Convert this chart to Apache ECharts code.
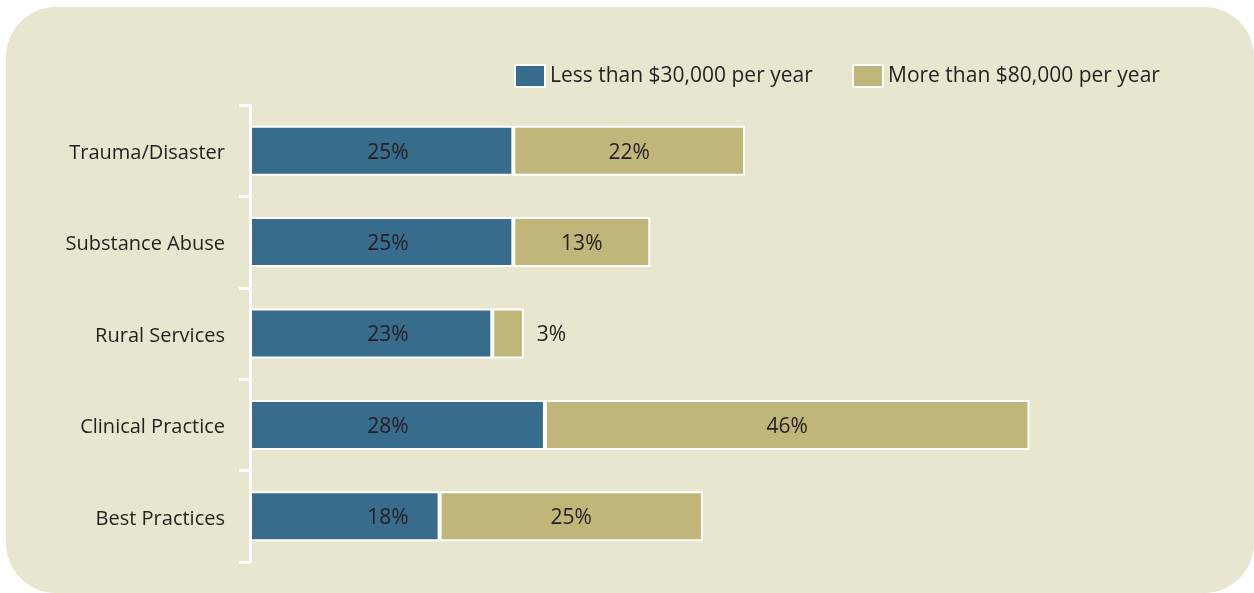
<!DOCTYPE html>
<html>
<head>
<meta charset="utf-8">
<script src="https://cdn.jsdelivr.net/npm/echarts@6/dist/echarts.min.js"></script>
<style>
  html, body { margin: 0; padding: 0; background: #ffffff; }
  #chart { width: 1254px; height: 593px; }
</style>
</head>
<body>
<div id="chart"></div>
<script>
// Share of respondents by income level, per topic area
const categories = ['Trauma/Disaster', 'Substance Abuse', 'Rural Services', 'Clinical Practice', 'Best Practices'];
const lowIncome = [25, 25, 23, 28, 18];   // Less than $30,000 per year
const highIncome = [22, 13, 3, 46, 25];   // More than $80,000 per year
const seriesNames = ['Less than $30,000 per year', 'More than $80,000 per year'];

const BLUE = '#386c8d';
const GOLD = '#c1b679';
const PANEL = '#e8e6ce';
const TEXT = '#231f20';
const FONT = '"Open Sans", "Noto Sans", sans-serif';

const chart = echarts.init(document.getElementById('chart'), null, { renderer: 'canvas' });

const highData = highIncome.map(function (v) {
  // narrow segments carry their label just outside the bar end
  if (v < 6) {
    return { value: v, label: { position: 'right', distance: 13 } };
  }
  return v;
});

const legendBase = {
  icon: 'rect', itemWidth: 30, itemHeight: 22, itemGap: 0, padding: 0,
  itemStyle: { borderColor: '#ffffff', borderWidth: 2 },
  textStyle: { fontFamily: FONT, fontSize: 21, color: TEXT }
};

chart.setOption({
  backgroundColor: '#ffffff',
  animation: false,
  textStyle: { fontFamily: FONT, color: TEXT },
  graphic: {
    elements: [{
      type: 'rect',
      z: -100,
      silent: true,
      shape: { x: 6, y: 7, width: 1248, height: 586, r: 50 },
      style: { fill: PANEL }
    }]
  },
  legend: [
    Object.assign({ data: [seriesNames[0]], left: 514, top: 64 }, legendBase),
    Object.assign({ data: [seriesNames[1]], left: 852, top: 64 }, legendBase)
  ],
  grid: { left: 250, top: 105, bottom: 31, right: 56, containLabel: false },
  xAxis: {
    type: 'value', min: 0, max: 90,
    show: false
  },
  yAxis: {
    type: 'category',
    data: categories,
    inverse: true,
    axisLine: { show: true, lineStyle: { color: '#ffffff', width: 3 } },
    axisTick: { show: true, length: 11, lineStyle: { color: '#ffffff', width: 3 } },
    axisLabel: {
      margin: 25, fontFamily: FONT, fontSize: 20, color: TEXT,
      verticalAlign: 'top', lineHeight: 5
    },
    splitLine: { show: false }
  },
  series: [
    {
      name: seriesNames[0],
      type: 'bar',
      stack: 'income',
      data: lowIncome,
      barWidth: 50,
      itemStyle: { color: BLUE, borderColor: '#ffffff', borderWidth: 2 },
      label: {
        show: true,
        position: [138, '50%'],
        align: 'center',
        verticalAlign: 'middle',
        offset: [0, 2],
        formatter: '{c}%',
        fontFamily: FONT, fontSize: 21, color: TEXT
      }
    },
    {
      name: seriesNames[1],
      type: 'bar',
      stack: 'income',
      data: highData,
      barWidth: 50,
      itemStyle: { color: GOLD, borderColor: '#ffffff', borderWidth: 2 },
      label: {
        show: true,
        position: 'inside',
        offset: [0, 2],
        formatter: '{c}%',
        fontFamily: FONT, fontSize: 21, color: TEXT
      }
    }
  ]
});
</script>
</body>
</html>
